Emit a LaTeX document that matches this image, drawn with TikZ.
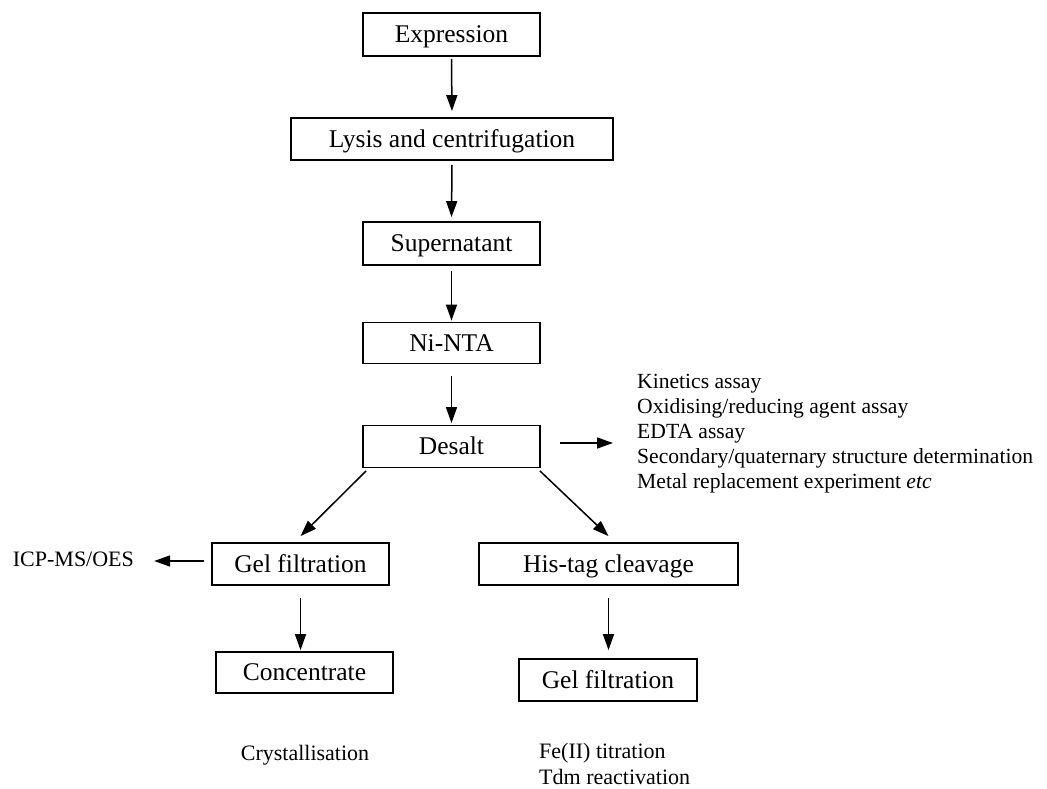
\documentclass[tikz,border=0pt]{standalone}
\usepackage{fontspec}
\setmainfont{Liberation Serif}
\usetikzlibrary{arrows.meta}
\begin{document}
\begin{tikzpicture}[x=1pt,y=-1pt,
  stepbox/.style={draw, line width=1.8pt, inner sep=0pt, minimum height=42pt,
    text height=22pt, text depth=5.5pt, font=\fontsize{25.5}{30}\selectfont},
  lbl/.style={inner sep=0pt, font=\fontsize{22}{25}\selectfont},
  arr/.style={line width=1.5pt, -{Triangle[length=16pt,width=11pt]}}]
\useasboundingbox (0,0) rectangle (1047,789);
\node[stepbox, minimum width=177pt, minimum height=43pt] (expr) at (451.5,34.5) {Expression};
\node[stepbox, minimum width=322pt] (lysis) at (452,139) {Lysis and centrifugation};
\node[stepbox, minimum width=177pt, minimum height=43pt] (super) at (451.5,243.5) {Supernatant};
\node[stepbox, minimum width=177pt, minimum height=41pt] (ni) at (451.5,343) {Ni-NTA};
\node[stepbox, minimum width=177pt] (desalt) at (451.5,446.5) {Desalt};
\node[stepbox, minimum width=177pt] (gelL) at (300.5,564) {Gel filtration};
\node[stepbox, minimum width=259pt] (his) at (608.5,564) {His-tag cleavage};
\node[stepbox, minimum width=177pt, minimum height=41pt] (conc) at (304.5,672.5) {Concentrate};
\node[stepbox, minimum width=178pt] (gelR) at (608,680) {Gel filtration};

\node[lbl, align=left, anchor=north west, font=\fontsize{21.6}{25}\selectfont] (list) at (637,374) {Kinetics assay\\Oxidising/reducing agent assay\\EDTA assay\\Secondary/quaternary structure determination\\Metal replacement experiment \textit{etc}};
\node[lbl, anchor=base west] (icp) at (12.7,566) {ICP-MS/OES};
\node[lbl, anchor=base] (cryst) at (305,760.7) {Crystallisation};
\node[lbl, align=left, anchor=north west, font=\fontsize{22}{26}\selectfont] (fe) at (539,743) {Fe(II) titration\\Tdm reactivation};

\draw[arr, shorten <=2pt, shorten >=6pt] (expr.south) -- (lysis.north);
\draw[arr, shorten <=4pt, shorten >=4pt] (lysis.south) -- (super.north);
\draw[arr, shorten <=5pt, shorten >=1pt] (super.south) -- (ni.north);
\draw[arr, shorten <=12pt, shorten >=1.5pt] (ni.south) -- (desalt.north);
\draw[arr, shorten <=19pt, shorten >=24pt] ([yshift=3.5pt]desalt.east) -- ([yshift=3.5pt]desalt.east -| list.west);
\draw[arr] ([shift={(4pt,-2.5pt)}]desalt.south west) -- ([yshift=6pt]gelL.north);
\draw[arr] ([shift={(-1pt,-2.5pt)}]desalt.south east) -- ([yshift=6pt]his.north);
\draw[arr, shorten <=7pt, shorten >=20pt] ([yshift=3pt]gelL.west) -- ([yshift=3pt]gelL.west -| icp.east);
\draw[arr, shorten <=12pt, shorten >=1pt] (gelL.south) -- (gelL.south |- conc.north);
\draw[arr, shorten <=12pt, shorten >=8pt] (his.south) -- (his.south |- gelR.north);
\end{tikzpicture}
\end{document}
